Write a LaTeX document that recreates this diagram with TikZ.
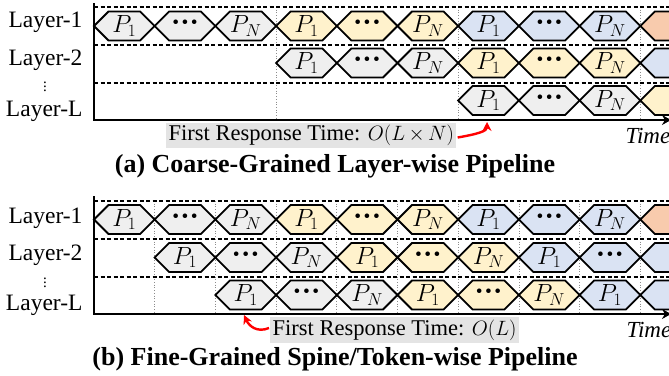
\documentclass[tikz,border=0pt]{standalone}
\usepackage{fontspec}
\setmainfont{Liberation Serif}
\usetikzlibrary{arrows.meta}
\definecolor{stagegray}{HTML}{EFEFEF}
\definecolor{stageyellow}{HTML}{FFF2CC}
\definecolor{stageblue}{HTML}{DAE3F3}
\definecolor{stageorange}{HTML}{F8CBAD}
\definecolor{notegray}{HTML}{E4E4E4}
\definecolor{notered}{HTML}{FF0000}

\newcommand{\stagefirst}{$P_1$}
\newcommand{\stagelast}{$P_N$}
\newcommand{\stagedots}{{\fontsize{28}{28}\selectfont\textbf{···}}}
\newcommand{\stagenone}{}

% one pipeline stage: hexagon outline from its left tip
\newcommand{\stagehex}[3]{%
  \path[stageline, fill=#3] (#1,#2) -- ++(14.5,-14.5) -- ++(31.7,0) -- ++(14.5,14.5)
    -- ++(-14.5,14.5) -- ++(-31.7,0) -- cycle;}

\tikzset{
  stageline/.style={draw=black, line width=1.8pt},
  stagelabel/.style={inner sep=0pt, font=\fontsize{24}{24}\selectfont},
  lane/.style={dashed, dash pattern=on 4pt off 2.5pt, line width=1.2pt},
  tickline/.style={black!45, dotted, line width=0.7pt},
  axisline/.style={line width=2.4pt, -{Stealth[length=9pt,width=10pt]}},
  layer/.style={anchor=base east, font=\fontsize{23.5}{23.5}\selectfont},
  note/.style={fill=notegray, inner sep=2.5pt, font=\fontsize{22.5}{22.5}\selectfont},
  respond/.style={notered, line width=2.4pt, -{Stealth[length=9pt,width=9pt]}},
  caption/.style={font=\fontsize{26}{26}\selectfont\bfseries},
  timelabel/.style={anchor=base west, font=\fontsize{23}{23}\selectfont\itshape},
}

\begin{document}
\begin{tikzpicture}[x=1pt, y=-1pt, >=Stealth]
\useasboundingbox (0,0) rectangle (669,375);
\clip (0,0) rectangle (669,375);

% ---------- (a) coarse-grained, layer by layer ----------
% group boundaries
\foreach \i in {3,6,9}
  \draw[tickline] (94+60.7*\i,7) -- (94+60.7*\i,120);
% lanes
\foreach \y in {7,45,83}
  \draw[lane] (94,\y) -- (669,\y);

% Layer-1
\foreach \i/\col/\lbl in {0/stagegray/\stagefirst, 1/stagegray/\stagedots, 2/stagegray/\stagelast,
    3/stageyellow/\stagefirst, 4/stageyellow/\stagedots, 5/stageyellow/\stagelast,
    6/stageblue/\stagefirst, 7/stageblue/\stagedots, 8/stageblue/\stagelast, 9/stageorange/\stagenone}{
  \stagehex{94+60.7*\i}{26}{\col}
  \node[stagelabel] (a1-\i) at (124.35+60.7*\i,26) {\lbl};
}
% Layer-2
\foreach \i/\col/\lbl in {3/stagegray/\stagefirst, 4/stagegray/\stagedots, 5/stagegray/\stagelast,
    6/stageyellow/\stagefirst, 7/stageyellow/\stagedots, 8/stageyellow/\stagelast, 9/stageblue/\stagenone}{
  \stagehex{94+60.7*\i}{63}{\col}
  \node[stagelabel] (a2-\i) at (124.35+60.7*\i,63) {\lbl};
}
% Layer-L
\foreach \i/\col/\lbl in {6/stagegray/\stagefirst, 7/stagegray/\stagedots, 8/stagegray/\stagelast,
    9/stageyellow/\stagenone}{
  \stagehex{94+60.7*\i}{100.5}{\col}
  \node[stagelabel] (a3-\i) at (124.35+60.7*\i,100.5) {\lbl};
}

% axes
\draw[axisline] (94,3) -- (94,120) -- (671,120);

\node[layer] (la1) at (86,27) {Layer-1};
\node[layer] (la2) at (86,65) {Layer-2};
\node[inner sep=0pt, font=\fontsize{15}{15}\selectfont] (lad) at (45,84) {$\vdots$};
\node[layer] (la3) at (86,116) {Layer-L};

\node[timelabel] (ta) at (622,143) {Time};

\node[note, anchor=west] (fra) at (166,135.5) {First Response Time: $O(L\,{\times}\,N)$};
\coordinate (fra-tip) at (487,122);
\draw[respond] ([xshift=1pt,yshift=-2pt]fra.east) .. controls (478,134) and (487,131) .. (fra-tip);

\node[caption] (capa) at (335,166) {(a) Coarse-Grained Layer-wise Pipeline};

% ---------- (b) fine-grained, spine/token by spine/token ----------
\foreach \i in {1,...,9}
  \draw[tickline] (94+60.7*\i,201) -- (94+60.7*\i,314);
\foreach \y in {201,239,277}
  \draw[lane] (94,\y) -- (669,\y);

% Layer-1
\foreach \i/\col/\lbl in {0/stagegray/\stagefirst, 1/stagegray/\stagedots, 2/stagegray/\stagelast,
    3/stageyellow/\stagefirst, 4/stageyellow/\stagedots, 5/stageyellow/\stagelast,
    6/stageblue/\stagefirst, 7/stageblue/\stagedots, 8/stageblue/\stagelast, 9/stageorange/\stagenone}{
  \stagehex{94+60.7*\i}{219.5}{\col}
  \node[stagelabel] (b1-\i) at (124.35+60.7*\i,219.5) {\lbl};
}
% Layer-2
\foreach \i/\col/\lbl in {1/stagegray/\stagefirst, 2/stagegray/\stagedots, 3/stagegray/\stagelast,
    4/stageyellow/\stagefirst, 5/stageyellow/\stagedots, 6/stageyellow/\stagelast,
    7/stageblue/\stagefirst, 8/stageblue/\stagedots, 9/stageblue/\stagenone}{
  \stagehex{94+60.7*\i}{257.5}{\col}
  \node[stagelabel] (b2-\i) at (124.35+60.7*\i,257.5) {\lbl};
}
% Layer-L
\foreach \i/\col/\lbl in {2/stagegray/\stagefirst, 3/stagegray/\stagedots, 4/stagegray/\stagelast,
    5/stageyellow/\stagefirst, 6/stageyellow/\stagedots, 7/stageyellow/\stagelast,
    8/stageblue/\stagefirst, 9/stageblue/\stagenone}{
  \stagehex{94+60.7*\i}{295}{\col}
  \node[stagelabel] (b3-\i) at (124.35+60.7*\i,295) {\lbl};
}

\draw[axisline] (94,196) -- (94,314) -- (671,314);

\node[layer] (lb1) at (86,223) {Layer-1};
\node[layer] (lb2) at (86,260) {Layer-2};
\node[inner sep=0pt, font=\fontsize{15}{15}\selectfont] (lbd) at (45,280) {$\vdots$};
\node[layer] (lb3) at (86,310) {Layer-L};

\node[timelabel] (tb) at (623,337) {Time};

\node[note, anchor=west] (frb) at (270,330) {First Response Time: $O(L)$};
\coordinate (frb-tip) at (244,315);
\draw[respond] ([xshift=-1pt,yshift=2pt]frb.west) .. controls (257,333) and (249,326) .. (frb-tip);

\node[caption] (capb) at (335,359) {(b) Fine-Grained Spine/Token-wise Pipeline};

\end{tikzpicture}
\end{document}
